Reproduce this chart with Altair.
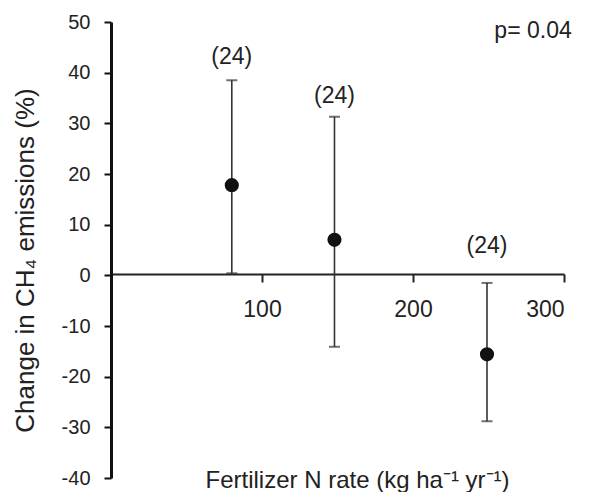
import altair as alt
import pandas as pd

# Fertilizer N rate classes (kg N ha-1 yr-1) and mean change in CH4 emissions (%)
n_rate = [80, 148, 249]
ch4_change = [17.8, 7.0, -15.6]
ci_low = [0.4, -14.1, -28.8]
ci_high = [38.5, 31.3, -1.5]
n_obs = ["(24)", "(24)", "(24)"]
n_label_y = [43.0, 35.3, 5.7]

p_text = ["p= 0.04"]
p_x = [279.5]
p_y = [48.2]

x_ticks = [100, 200, 300]
y_ticks = [-40, -30, -20, -10, 0, 10, 20, 30, 40, 50]

df = pd.DataFrame({
    "rate": n_rate,
    "change": ch4_change,
    "lo": ci_low,
    "hi": ci_high,
    "n": n_obs,
    "ny": n_label_y,
})
p_df = pd.DataFrame({"rate": p_x, "ny": p_y, "label": p_text})

FONT = "Liberation Sans"
INK = "#222222"

x_scale = alt.Scale(domain=[0, 300], nice=False, zero=False)
y_scale = alt.Scale(domain=[-40, 50], nice=False, zero=False)

x_axis = alt.Axis(
    values=x_ticks, offset=-204, grid=False,
    domainColor=INK, domainWidth=2,
    tickColor=INK, tickWidth=2, tickSize=8,
    labelFont=FONT, labelFontSize=23, labelColor=INK, labelPadding=16,
    title="Fertilizer N rate (kg ha⁻¹ yr⁻¹)",
    titleFont=FONT, titleFontSize=24, titleFontWeight="normal", titleColor=INK,
    titleX=246, titleY=213, titleAlign="center", titleBaseline="alphabetic",
)
y_axis = alt.Axis(
    values=y_ticks, grid=False,
    labelExpr="'' + datum.value",  # plain hyphen for negative numbers
    domainColor="#111111", domainWidth=3,
    tickColor="#111111", tickWidth=2, tickSize=7,
    labelFont=FONT, labelFontSize=20, labelColor=INK, labelPadding=14,
    title="Change in CH₄ emissions (%)",
    titleFont=FONT, titleFontSize=26, titleFontWeight="normal", titleColor=INK,
    titleAngle=270, titleX=-78, titleY=238, titleAlign="center",
    titleBaseline="alphabetic",
)


def xq(field):
    return alt.X(f"{field}:Q", scale=x_scale, axis=x_axis)


def yq(field):
    return alt.Y(f"{field}:Q", scale=y_scale, axis=y_axis)


base = alt.Chart(df)

whiskers = base.mark_rule(color="#333333", strokeWidth=1.6).encode(
    x=xq("rate"), y=yq("lo"), y2="hi:Q"
)
cap_low = base.mark_tick(orient="horizontal", size=11, thickness=2, color="#333333").encode(
    x=xq("rate"), y=yq("lo")
)
cap_high = base.mark_tick(orient="horizontal", size=11, thickness=2, color="#333333").encode(
    x=xq("rate"), y=yq("hi")
)
points = base.mark_circle(size=200, color="#111111", opacity=1).encode(
    x=xq("rate"), y=yq("change")
)
n_labels = base.mark_text(font=FONT, fontSize=23, color=INK, baseline="middle", align="center").encode(
    x=xq("rate"), y=yq("ny"), text="n:N"
)
p_label = alt.Chart(p_df).mark_text(font=FONT, fontSize=23, color=INK, baseline="middle", align="center").encode(
    x=xq("rate"), y=yq("ny"), text="label:N"
)

chart = alt.layer(whiskers, cap_low, cap_high, points, n_labels, p_label).properties(
    width=453,
    height=456,
    padding={"left": 111, "top": 22, "right": 26, "bottom": 14},
    autosize=alt.AutoSizeParams(type="none"),
    background="white",
).configure_view(stroke=None)

chart.save("out.html", embed_options={"renderer": "svg", "actions": False})
